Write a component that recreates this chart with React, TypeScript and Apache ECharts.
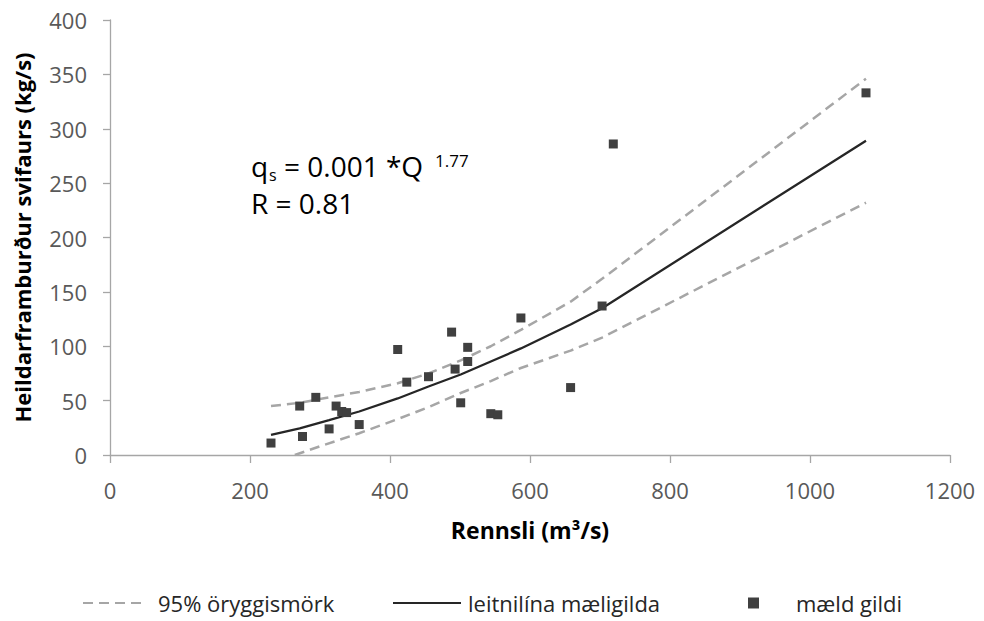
import React, { useEffect, useRef } from "react";
import * as echarts from "echarts";

// Measured points (discharge m3/s, total suspended load kg/s)
const measuredQ = [230, 271, 294, 275, 313, 323, 331, 338, 356, 411, 424, 455, 488, 493, 501, 511, 511, 544, 554, 587, 658, 703, 719, 1080];
const measuredLoad = [11, 45, 53, 17, 24, 45, 40, 39, 28, 97, 67, 72, 113, 79, 48, 99, 86, 38, 37, 126, 62, 137, 286, 333];

// Regression line
const fitQ = [230, 271, 313, 356, 411, 455, 501, 544, 587, 658, 703, 1080];
const fitLoad = [18.5, 24.5, 32, 40, 52, 63, 74, 86, 98, 120, 135, 289];

// 95% confidence limits
const upperQ = [230, 271, 313, 356, 411, 455, 501, 544, 587, 658, 703, 1080];
const upperLoad = [45, 48, 53, 58, 66, 75, 87, 100, 115, 141, 162, 346];
const lowerQ = [264, 300, 356, 411, 455, 501, 544, 587, 658, 703, 1080];
const lowerLoad = [0, 8, 20, 33, 44, 57, 68, 80, 96, 108, 232];

const xTicks = { min: 0, max: 1200, interval: 200 };
const yTicks = { min: 0, max: 400, interval: 50 };

const seriesNames = ["95% öryggismörk", "leitnilína mæligilda", "mæld gildi"];

const FONT = "'Open Sans', 'Noto Sans', sans-serif";

const zip = (xs: number[], ys: number[]) => xs.map((x, i) => [x, ys[i]]);

export default function App() {
  const ref = useRef<HTMLDivElement>(null);

  useEffect(() => {
    if (!ref.current) return;
    const chart = echarts.init(ref.current, undefined, { renderer: "svg" });
    const dashStyle = { color: "#a6a6a6", width: 2.5, type: [10, 6] as any };
    const hiddenSymbol = { color: "rgba(0,0,0,0)", borderColor: "rgba(0,0,0,0)", borderWidth: 0, opacity: 0 };
    chart.setOption({
      animation: false,
      backgroundColor: "#ffffff",
      grid: { left: 110, top: 20, width: 840, height: 435, containLabel: false },
      xAxis: {
        type: "value",
        min: xTicks.min,
        max: xTicks.max,
        interval: xTicks.interval,
        axisLine: { show: true, lineStyle: { color: "#a6a6a6", width: 1.3 } },
        axisTick: { show: true, length: 8, lineStyle: { color: "#a6a6a6", width: 1.3 } },
        axisLabel: {
          margin: 24,
          fontSize: 22,
          color: "#595959",
          fontFamily: FONT,
          formatter: (v: number) => String(v),
        },
        splitLine: { show: false },
        name: "Rennsli (m³/s)",
        nameLocation: "middle",
        nameGap: 63,
        nameTextStyle: { fontSize: 23, fontWeight: "bold", color: "#000000", fontFamily: FONT },
      },
      yAxis: {
        type: "value",
        min: yTicks.min,
        max: yTicks.max,
        interval: yTicks.interval,
        axisLine: { show: true, lineStyle: { color: "#a6a6a6", width: 1.3 } },
        axisTick: { show: true, length: 7, lineStyle: { color: "#a6a6a6", width: 1.3 } },
        axisLabel: {
          margin: 23,
          fontSize: 22,
          color: "#595959",
          fontFamily: FONT,
          formatter: (v: number) => String(v),
        },
        splitLine: { show: false },
        name: "Heildarframburður svifaurs (kg/s)",
        nameLocation: "middle",
        nameGap: 77,
        nameTextStyle: { fontSize: 22, fontWeight: "bold", color: "#000000", fontFamily: FONT },
      },
      legend: [
        {
          data: [seriesNames[0]],
          left: 82,
          top: 592,
          padding: 0,
          itemWidth: 63,
          itemHeight: 14,
          itemStyle: hiddenSymbol,
          textStyle: { fontSize: 22, color: "#262626", fontFamily: FONT, padding: [0, 0, 0, 7] },
        },
        {
          data: [seriesNames[1]],
          left: 392,
          top: 592,
          padding: 0,
          itemWidth: 68,
          itemHeight: 14,
          itemStyle: hiddenSymbol,
          textStyle: { fontSize: 22, color: "#262626", fontFamily: FONT, padding: [0, 0, 0, 2] },
        },
        {
          data: [{ name: seriesNames[2], icon: "rect" }],
          left: 748,
          top: 592,
          padding: 0,
          itemWidth: 11,
          itemHeight: 11,
          textStyle: { fontSize: 22, color: "#262626", fontFamily: FONT, padding: [0, 0, 0, 32] },
        },
      ],
      graphic: [
        { type: "text", x: 251, y: 166, style: { text: "q", fontSize: 28, fontFamily: FONT, fill: "#000", verticalAlign: "middle" } },
        { type: "text", x: 269, y: 175, style: { text: "s", fontSize: 16, fontFamily: FONT, fill: "#000", verticalAlign: "middle" } },
        { type: "text", x: 284, y: 166, style: { text: "= 0.001 *Q", fontSize: 28, fontFamily: FONT, fill: "#000", verticalAlign: "middle" } },
        { type: "text", x: 435, y: 160, style: { text: "1.77", fontSize: 17, fontFamily: FONT, fill: "#000", verticalAlign: "middle" } },
        { type: "text", x: 251, y: 203, style: { text: "R = 0.81", fontSize: 28, fontFamily: FONT, fill: "#000", verticalAlign: "middle" } },
      ],
      series: [
        {
          name: seriesNames[0],
          type: "line",
          data: zip(upperQ, upperLoad),
          symbol: "none",
          lineStyle: dashStyle,
          itemStyle: { color: "#a6a6a6" },
          clip: true,
        },
        {
          name: seriesNames[0],
          type: "line",
          data: zip(lowerQ, lowerLoad),
          symbol: "none",
          lineStyle: dashStyle,
          itemStyle: { color: "#a6a6a6" },
          clip: true,
        },
        {
          name: seriesNames[1],
          type: "line",
          data: zip(fitQ, fitLoad),
          symbol: "none",
          lineStyle: { color: "#262626", width: 2.3 },
          itemStyle: { color: "#262626" },
        },
        {
          name: seriesNames[2],
          type: "scatter",
          data: zip(measuredQ, measuredLoad),
          symbol: "rect",
          symbolSize: 9,
          itemStyle: { color: "#404040", opacity: 1 },
          z: 5,
        },
      ],
    });
    return () => chart.dispose();
  }, []);

  return (
    <div
      ref={ref}
      style={{ position: "absolute", left: 0, top: 0, width: 984, height: 621, background: "#fff" }}
    />
  );
}
